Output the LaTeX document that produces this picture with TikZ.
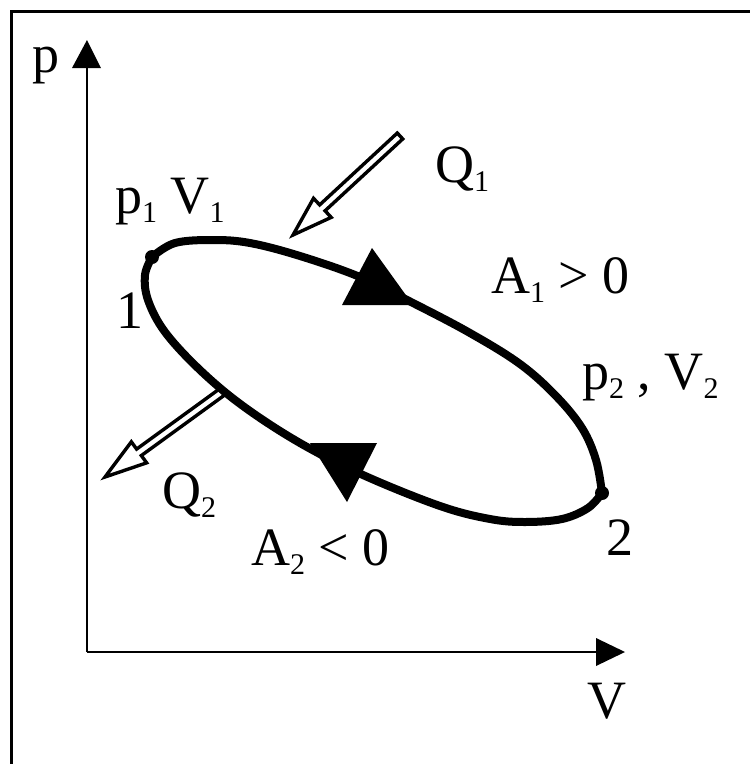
\documentclass[tikz,border=0pt]{standalone}
\usepackage{fontspec}
\setmainfont{Liberation Serif}
\usetikzlibrary{calc}
\newcommand\subs[1]{\raisebox{-9pt}{\fontsize{30}{30}\selectfont #1}}
\begin{document}
\begin{tikzpicture}[x=1pt,y=-1pt,
  lab/.style={font=\fontsize{54}{60}\selectfont, inner sep=0pt, anchor=base west},
  axisline/.style={line width=2.6pt},
  cyc/.style={line width=8pt, line join=round, line cap=round},
  heat/.style={draw, fill=white, line width=3.4pt, line join=miter},
  dirtri/.style={fill=black},
  pt/.style={fill=black}]
\useasboundingbox (0,0) rectangle (750,764);
\fill[white] (0,0) rectangle (750,764);
% frame
\coordinate (FB) at (11,764);
\coordinate (FC) at (11,11);
\coordinate (FR) at (750,11);
\draw[line width=3pt] (FB) -- (FC) -- (FR);
% axes
\coordinate (O) at (87,652);
\coordinate (Ybase) at (87,68);
\coordinate (Ytip) at (87,40);
\coordinate (Xbase) at (596,652);
\coordinate (Xtip) at (625,652);
\draw[axisline] (O) -- (Ybase);
\draw[axisline] (O) -- (Xbase);
\fill (Ytip) -- (72,68) -- (101,68) -- cycle;
\fill (Xtip) -- (596,638) -- (596,666) -- cycle;
% heat arrows
\draw[heat] (402.72,138.94) -- (325.08,210.78) -- (331.19,217.38) -- (293,235)
  -- (313.53,198.30) -- (319.64,204.90) -- (397.28,133.06) -- cycle;
\draw[heat] (224.35,395.24) -- (141.33,455.55) -- (146.62,462.83) -- (105,477)
  -- (131.34,441.79) -- (136.63,449.07) -- (219.65,388.76) -- cycle;
% cycle curve
\coordinate (P1) at (152,257);
\coordinate (P2) at (602,493);
\draw[cyc] plot[smooth, tension=0.6] coordinates {(152,257) (175,243) (213,240) (250,243) (300,256) (360,277) (413,303) (470,333) (520,364) (556,396) (582,428) (596,460) (602,493)};
\draw[cyc] plot[smooth, tension=0.6] coordinates {(602,493) (588,508) (562,519) (525,522) (490,519) (440,506) (363,475) (300,443) (243,406) (200,370) (165,332) (148,300) (145,275) (152,257)};
\fill[pt] (P1) circle[radius=7pt];
\fill[pt] (P2) circle[radius=7pt];
% direction triangles
\fill[dirtri] (413,305) -- (372,248) -- (342,305) -- cycle;
\fill[dirtri] (310,443) -- (377,443) -- (347,502) -- cycle;
% labels
\node[lab] (pl) at (32,72) {p};
\node[lab] (Vl) at (587,718) {V};
\node[lab] (q1) at (435,182) {Q\subs{1}};
\node[lab] (p1v1) at (115,213) {p\subs{1} V\subs{1}};
\node[lab, anchor=base] (one) at (130,328) {1};
\node[lab] (a1) at (491,293) {A\subs{1} > 0};
\node[lab] (p2v2) at (582,389) {p\subs{2} , V\subs{2}};
\node[lab, anchor=base] (two) at (620,555) {2};
\node[lab] (q2) at (162,508) {Q\subs{2}};
\node[lab] (a2) at (251,565) {A\subs{2} < 0};
\end{tikzpicture}
\end{document}
